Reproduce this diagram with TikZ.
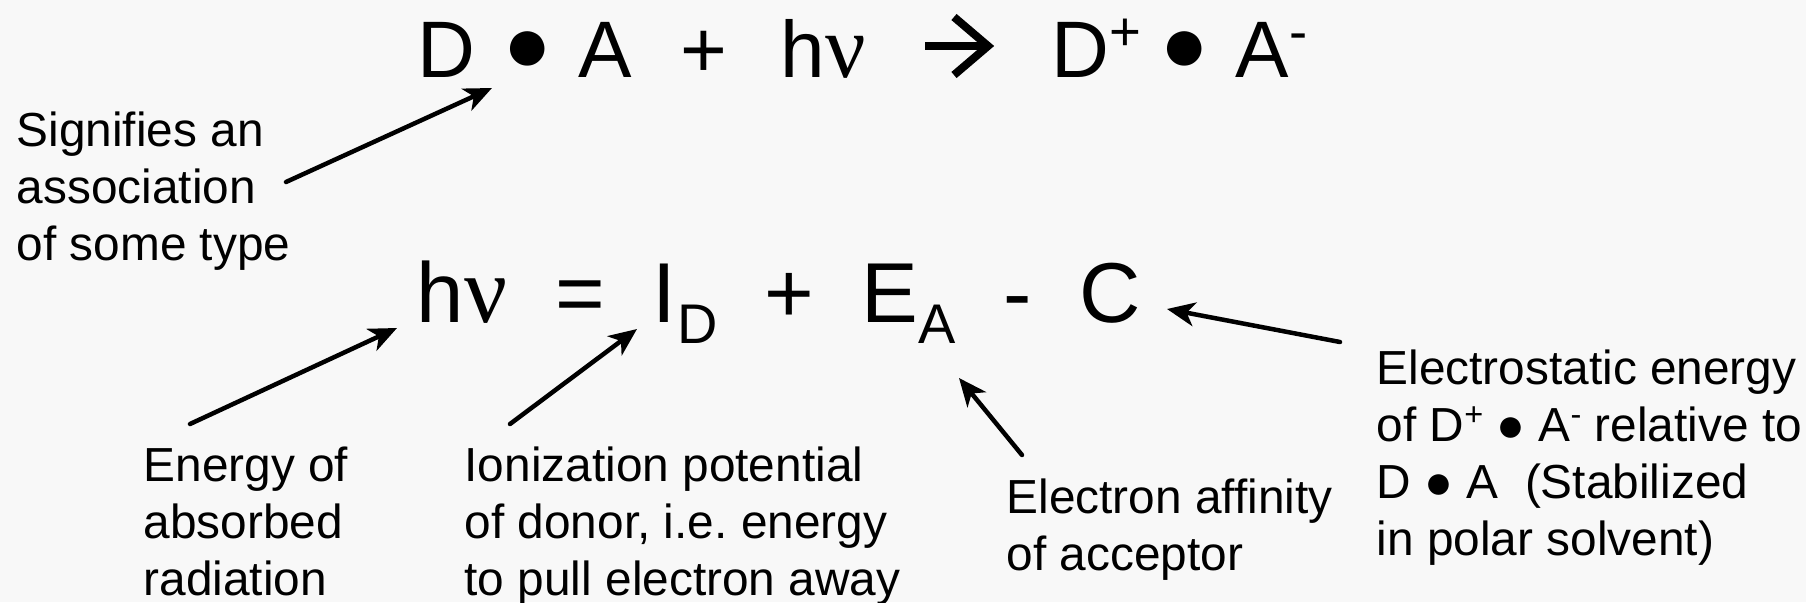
\documentclass[tikz,border=0pt]{standalone}
\usepackage{fontspec}
\setmainfont{Liberation Sans}
\newfontfamily\nufont{Liberation Serif}
\usepackage{graphicx}
\usetikzlibrary{arrows.meta}
\definecolor{slidebg}{RGB}{248,248,248}
\newcommand{\chgsup}[1]{\raisebox{0.33em}{\scalebox{0.68}{#1}}}
\newcommand{\hnu}{h{\nufont\scalebox{1.12}{ν}}}
\frenchspacing

\begin{document}
\begin{tikzpicture}[>={Stealth[length=2.8mm,width=2.4mm,inset=0.8mm]},line cap=round,
  tok/.style={anchor=base west,inner sep=0pt},
  eqa/.style={tok,font=\fontsize{22.8pt}{27pt}\selectfont},
  eqb/.style={tok,font=\fontsize{24.2pt}{29pt}\selectfont},
  subb/.style={tok,font=\fontsize{15.9pt}{19pt}\selectfont},
  note/.style={anchor=base west,inner sep=0pt,align=left,font=\fontsize{13.6pt}{16.2pt}\selectfont},
  callout/.style={->,line width=0.45mm}]
\fill[slidebg] (0,0) rectangle (18.06,6.02);
\useasboundingbox (0,0) rectangle (18.06,6.02);
% charge-transfer reaction
\node[eqa] (d1) at (4.17,5.25) {D};
\node[eqa,anchor=center] (dot1) at (5.28,5.50) {●};
\node[eqa] (a1) at (5.78,5.25) {A};
\node[eqa] (plus1) at (6.80,5.25) {+};
\node[eqa] (hv1) at (7.80,5.25) {\hnu};
\coordinate (rxs) at (9.25,5.56);
\coordinate (rxe) at (9.88,5.56);
\draw[line width=0.8mm,line cap=butt] (rxs) -- (rxe);
\draw[line width=0.8mm,line cap=butt] ([shift={(-0.34,0.29)}]rxe) -- (rxe) -- ([shift={(-0.34,-0.29)}]rxe);
\node[eqa] (d2) at (10.51,5.25) {D\chgsup{+}};
\node[eqa,anchor=center] (dot2) at (11.85,5.50) {●};
\node[eqa] (a2) at (12.35,5.25) {A\chgsup{-}};
% energy balance
\node[eqb] (hv2) at (4.16,2.80) {\hnu};
\node[eqb] (eq) at (5.55,2.80) {=};
\node[eqb] (ion) at (6.52,2.80) {I};
\node[subb] (ionsub) at (6.77,2.59) {D};
\node[eqb] (plus2) at (7.64,2.80) {+};
\node[eqb] (ea) at (8.61,2.80) {E};
\node[subb] (easub) at (9.18,2.59) {A};
\node[eqb] (minus) at (10.03,2.80) {-};
\node[eqb] (coul) at (10.79,2.80) {C};
% explanations (anchored on their last line)
\node[note] (assoc) at (0.16,3.42) {Signifies an\\association\\of some type};
\node[note] (absorb) at (1.43,0.07) {Energy of\\absorbed\\radiation};
\node[note] (ionize) at (4.64,0.07) {Ionization potential\\of donor, i.e. energy\\to pull electron away};
\node[note] (affin) at (10.06,0.32) {Electron affinity\\of acceptor};
\node[note] (elstat) at (13.76,0.47) {Electrostatic energy\\of D\chgsup{+} ● A\chgsup{-} relative to\\D ● A\ \ (Stabilized\\in polar solvent)};
% pointers
\coordinate (t1) at (2.86,4.20); \coordinate (h1) at (4.92,5.14);
\coordinate (t2) at (1.90,1.78); \coordinate (h2) at (3.97,2.74);
\coordinate (t3) at (5.10,1.78); \coordinate (h3) at (6.37,2.73);
\coordinate (t4) at (10.22,1.47); \coordinate (h4) at (9.59,2.24);
\coordinate (t5) at (13.40,2.60); \coordinate (h5) at (11.67,2.93);
\draw[callout] (t1) -- (h1);
\draw[callout] (t2) -- (h2);
\draw[callout] (t3) -- (h3);
\draw[callout] (t4) -- (h4);
\draw[callout] (t5) -- (h5);
\end{tikzpicture}
\end{document}
